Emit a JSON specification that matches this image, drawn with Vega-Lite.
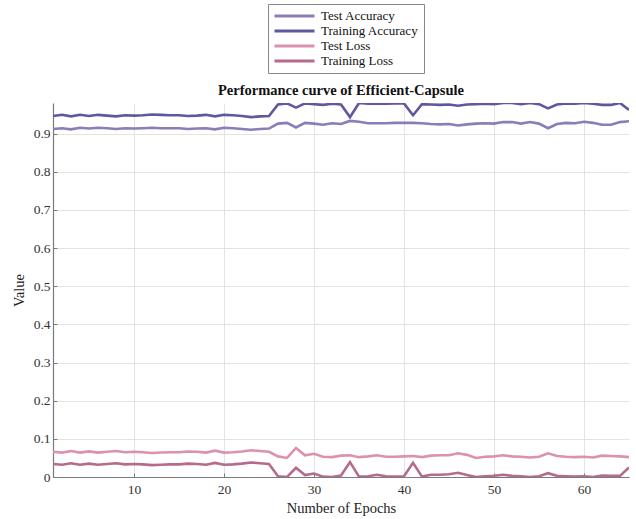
{
  "$schema": "https://vega.github.io/schema/vega-lite/v6.json",
  "autosize": {"type": "none"},
  "padding": {"left": 53, "top": 103, "right": 7, "bottom": 42},
  "width": 576,
  "height": 374,
  "background": "white",
  "title": {
    "text": "Performance curve of Efficient-Capsule",
    "font": "Liberation Serif",
    "fontSize": 14.5,
    "fontWeight": "bold",
    "color": "#111111",
    "anchor": "middle",
    "frame": "group",
    "offset": -95
  },
  "data": {
    "values": [
      {"epoch": 1, "Test Accuracy": 0.912, "Training Accuracy": 0.946, "Test Loss": 0.066, "Training Loss": 0.034},
      {"epoch": 2, "Test Accuracy": 0.914, "Training Accuracy": 0.949, "Test Loss": 0.064, "Training Loss": 0.032},
      {"epoch": 3, "Test Accuracy": 0.911, "Training Accuracy": 0.945, "Test Loss": 0.068, "Training Loss": 0.036},
      {"epoch": 4, "Test Accuracy": 0.915, "Training Accuracy": 0.949, "Test Loss": 0.064, "Training Loss": 0.032},
      {"epoch": 5, "Test Accuracy": 0.913, "Training Accuracy": 0.946, "Test Loss": 0.067, "Training Loss": 0.035},
      {"epoch": 6, "Test Accuracy": 0.915, "Training Accuracy": 0.949, "Test Loss": 0.064, "Training Loss": 0.032},
      {"epoch": 7, "Test Accuracy": 0.914, "Training Accuracy": 0.947, "Test Loss": 0.066, "Training Loss": 0.034},
      {"epoch": 8, "Test Accuracy": 0.912, "Training Accuracy": 0.945, "Test Loss": 0.068, "Training Loss": 0.036},
      {"epoch": 9, "Test Accuracy": 0.914, "Training Accuracy": 0.948, "Test Loss": 0.065, "Training Loss": 0.033},
      {"epoch": 10, "Test Accuracy": 0.913, "Training Accuracy": 0.947, "Test Loss": 0.066, "Training Loss": 0.034},
      {"epoch": 11, "Test Accuracy": 0.914, "Training Accuracy": 0.948, "Test Loss": 0.065, "Training Loss": 0.033},
      {"epoch": 12, "Test Accuracy": 0.915, "Training Accuracy": 0.95, "Test Loss": 0.063, "Training Loss": 0.031},
      {"epoch": 13, "Test Accuracy": 0.914, "Training Accuracy": 0.949, "Test Loss": 0.064, "Training Loss": 0.032},
      {"epoch": 14, "Test Accuracy": 0.914, "Training Accuracy": 0.948, "Test Loss": 0.065, "Training Loss": 0.033},
      {"epoch": 15, "Test Accuracy": 0.914, "Training Accuracy": 0.948, "Test Loss": 0.065, "Training Loss": 0.033},
      {"epoch": 16, "Test Accuracy": 0.912, "Training Accuracy": 0.946, "Test Loss": 0.067, "Training Loss": 0.035},
      {"epoch": 17, "Test Accuracy": 0.913, "Training Accuracy": 0.947, "Test Loss": 0.066, "Training Loss": 0.034},
      {"epoch": 18, "Test Accuracy": 0.914, "Training Accuracy": 0.949, "Test Loss": 0.064, "Training Loss": 0.032},
      {"epoch": 19, "Test Accuracy": 0.911, "Training Accuracy": 0.945, "Test Loss": 0.069, "Training Loss": 0.037},
      {"epoch": 20, "Test Accuracy": 0.915, "Training Accuracy": 0.949, "Test Loss": 0.064, "Training Loss": 0.032},
      {"epoch": 21, "Test Accuracy": 0.914, "Training Accuracy": 0.948, "Test Loss": 0.065, "Training Loss": 0.033},
      {"epoch": 22, "Test Accuracy": 0.912, "Training Accuracy": 0.946, "Test Loss": 0.067, "Training Loss": 0.035},
      {"epoch": 23, "Test Accuracy": 0.91, "Training Accuracy": 0.943, "Test Loss": 0.07, "Training Loss": 0.038},
      {"epoch": 24, "Test Accuracy": 0.912, "Training Accuracy": 0.945, "Test Loss": 0.068, "Training Loss": 0.036},
      {"epoch": 25, "Test Accuracy": 0.913, "Training Accuracy": 0.946, "Test Loss": 0.066, "Training Loss": 0.034},
      {"epoch": 26, "Test Accuracy": 0.926, "Training Accuracy": 0.976, "Test Loss": 0.054, "Training Loss": 0.002},
      {"epoch": 27, "Test Accuracy": 0.928, "Training Accuracy": 0.979, "Test Loss": 0.05, "Training Loss": 0.0},
      {"epoch": 28, "Test Accuracy": 0.916, "Training Accuracy": 0.968, "Test Loss": 0.076, "Training Loss": 0.024},
      {"epoch": 29, "Test Accuracy": 0.928, "Training Accuracy": 0.979, "Test Loss": 0.057, "Training Loss": 0.005},
      {"epoch": 30, "Test Accuracy": 0.926, "Training Accuracy": 0.977, "Test Loss": 0.061, "Training Loss": 0.009},
      {"epoch": 31, "Test Accuracy": 0.923, "Training Accuracy": 0.975, "Test Loss": 0.053, "Training Loss": 0.001},
      {"epoch": 32, "Test Accuracy": 0.927, "Training Accuracy": 0.978, "Test Loss": 0.052, "Training Loss": 0.0},
      {"epoch": 33, "Test Accuracy": 0.925, "Training Accuracy": 0.976, "Test Loss": 0.056, "Training Loss": 0.004},
      {"epoch": 34, "Test Accuracy": 0.933, "Training Accuracy": 0.943, "Test Loss": 0.057, "Training Loss": 0.039},
      {"epoch": 35, "Test Accuracy": 0.931, "Training Accuracy": 0.98, "Test Loss": 0.052, "Training Loss": 0.001},
      {"epoch": 36, "Test Accuracy": 0.927, "Training Accuracy": 0.978, "Test Loss": 0.054, "Training Loss": 0.002},
      {"epoch": 37, "Test Accuracy": 0.927, "Training Accuracy": 0.978, "Test Loss": 0.057, "Training Loss": 0.006},
      {"epoch": 38, "Test Accuracy": 0.927, "Training Accuracy": 0.978, "Test Loss": 0.053, "Training Loss": 0.002},
      {"epoch": 39, "Test Accuracy": 0.928, "Training Accuracy": 0.979, "Test Loss": 0.053, "Training Loss": 0.001},
      {"epoch": 40, "Test Accuracy": 0.928, "Training Accuracy": 0.979, "Test Loss": 0.054, "Training Loss": 0.002},
      {"epoch": 41, "Test Accuracy": 0.928, "Training Accuracy": 0.948, "Test Loss": 0.055, "Training Loss": 0.037},
      {"epoch": 42, "Test Accuracy": 0.927, "Training Accuracy": 0.977, "Test Loss": 0.052, "Training Loss": 0.001},
      {"epoch": 43, "Test Accuracy": 0.925, "Training Accuracy": 0.976, "Test Loss": 0.056, "Training Loss": 0.006},
      {"epoch": 44, "Test Accuracy": 0.924, "Training Accuracy": 0.975, "Test Loss": 0.057, "Training Loss": 0.006},
      {"epoch": 45, "Test Accuracy": 0.925, "Training Accuracy": 0.976, "Test Loss": 0.057, "Training Loss": 0.007},
      {"epoch": 46, "Test Accuracy": 0.921, "Training Accuracy": 0.973, "Test Loss": 0.062, "Training Loss": 0.011},
      {"epoch": 47, "Test Accuracy": 0.924, "Training Accuracy": 0.976, "Test Loss": 0.058, "Training Loss": 0.005},
      {"epoch": 48, "Test Accuracy": 0.926, "Training Accuracy": 0.977, "Test Loss": 0.05, "Training Loss": 0.0},
      {"epoch": 49, "Test Accuracy": 0.927, "Training Accuracy": 0.978, "Test Loss": 0.053, "Training Loss": 0.002},
      {"epoch": 50, "Test Accuracy": 0.926, "Training Accuracy": 0.977, "Test Loss": 0.054, "Training Loss": 0.003},
      {"epoch": 51, "Test Accuracy": 0.93, "Training Accuracy": 0.98, "Test Loss": 0.057, "Training Loss": 0.006},
      {"epoch": 52, "Test Accuracy": 0.93, "Training Accuracy": 0.98, "Test Loss": 0.054, "Training Loss": 0.003},
      {"epoch": 53, "Test Accuracy": 0.926, "Training Accuracy": 0.977, "Test Loss": 0.053, "Training Loss": 0.002},
      {"epoch": 54, "Test Accuracy": 0.93, "Training Accuracy": 0.98, "Test Loss": 0.051, "Training Loss": 0.0},
      {"epoch": 55, "Test Accuracy": 0.926, "Training Accuracy": 0.977, "Test Loss": 0.053, "Training Loss": 0.002},
      {"epoch": 56, "Test Accuracy": 0.914, "Training Accuracy": 0.966, "Test Loss": 0.062, "Training Loss": 0.01},
      {"epoch": 57, "Test Accuracy": 0.925, "Training Accuracy": 0.976, "Test Loss": 0.055, "Training Loss": 0.003},
      {"epoch": 58, "Test Accuracy": 0.928, "Training Accuracy": 0.979, "Test Loss": 0.053, "Training Loss": 0.002},
      {"epoch": 59, "Test Accuracy": 0.927, "Training Accuracy": 0.978, "Test Loss": 0.052, "Training Loss": 0.001},
      {"epoch": 60, "Test Accuracy": 0.931, "Training Accuracy": 0.98, "Test Loss": 0.053, "Training Loss": 0.002},
      {"epoch": 61, "Test Accuracy": 0.928, "Training Accuracy": 0.978, "Test Loss": 0.051, "Training Loss": 0.0},
      {"epoch": 62, "Test Accuracy": 0.923, "Training Accuracy": 0.975, "Test Loss": 0.056, "Training Loss": 0.004},
      {"epoch": 63, "Test Accuracy": 0.923, "Training Accuracy": 0.975, "Test Loss": 0.055, "Training Loss": 0.003},
      {"epoch": 64, "Test Accuracy": 0.93, "Training Accuracy": 0.98, "Test Loss": 0.054, "Training Loss": 0.003},
      {"epoch": 65, "Test Accuracy": 0.932, "Training Accuracy": 0.962, "Test Loss": 0.052, "Training Loss": 0.025}
    ]
  },
  "transform": [
    {"fold": ["Test Accuracy", "Training Accuracy", "Test Loss", "Training Loss"], "as": ["series", "value"]}
  ],
  "mark": {"type": "line", "strokeWidth": 2.6, "clip": true},
  "encoding": {
    "x": {
      "field": "epoch",
      "type": "quantitative",
      "title": "Number of Epochs",
      "scale": {"domain": [1, 65], "nice": false, "zero": false},
      "axis": {
        "values": [10, 20, 30, 40, 50, 60],
        "format": "d",
        "grid": true,
        "gridColor": "#e3e3e3",
        "gridWidth": 1,
        "domainColor": "#7a7a7a",
        "domainWidth": 1.2,
        "tickColor": "#7a7a7a",
        "tickSize": -4,
        "labelFont": "Liberation Serif",
        "labelFontSize": 13.5,
        "labelColor": "#333333",
        "labelPadding": 9,
        "titleFont": "Liberation Serif",
        "titleFontSize": 14.5,
        "titleFontWeight": "normal",
        "titleColor": "#222222",
        "titlePadding": 6
      }
    },
    "y": {
      "field": "value",
      "type": "quantitative",
      "title": "Value",
      "scale": {"domain": [0, 0.98], "nice": false},
      "axis": {
        "values": [0, 0.1, 0.2, 0.3, 0.4, 0.5, 0.6, 0.7, 0.8, 0.9],
        "format": "~g",
        "grid": true,
        "gridColor": "#e3e3e3",
        "gridWidth": 1,
        "domainColor": "#7a7a7a",
        "domainWidth": 1.2,
        "tickColor": "#7a7a7a",
        "tickSize": -4,
        "labelFont": "Liberation Serif",
        "labelFontSize": 13.5,
        "labelColor": "#333333",
        "labelPadding": 7,
        "titleFont": "Liberation Serif",
        "titleFontSize": 14.5,
        "titleFontWeight": "normal",
        "titleColor": "#222222",
        "titlePadding": 7
      }
    },
    "color": {
      "field": "series",
      "type": "nominal",
      "sort": ["Test Accuracy", "Training Accuracy", "Test Loss", "Training Loss"],
      "scale": {
        "domain": ["Test Accuracy", "Training Accuracy", "Test Loss", "Training Loss"],
        "range": ["#8a7db8", "#5d58a0", "#dc92ad", "#b66a8c"]
      },
      "legend": {
        "title": null,
        "orient": "none",
        "legendX": 215,
        "legendY": -99,
        "direction": "vertical",
        "symbolType": "stroke",
        "symbolSize": 1600,
        "symbolStrokeWidth": 3,
        "clipHeight": 14,
        "labelFont": "Liberation Serif",
        "labelFontSize": 13,
        "labelColor": "#111111",
        "labelOffset": 5,
        "rowPadding": 1,
        "padding": 5,
        "strokeColor": "#888888",
        "fillColor": "white"
      }
    }
  },
  "config": {
    "view": {"stroke": null},
    "axis": {"labelFlush": false}
  }
}
